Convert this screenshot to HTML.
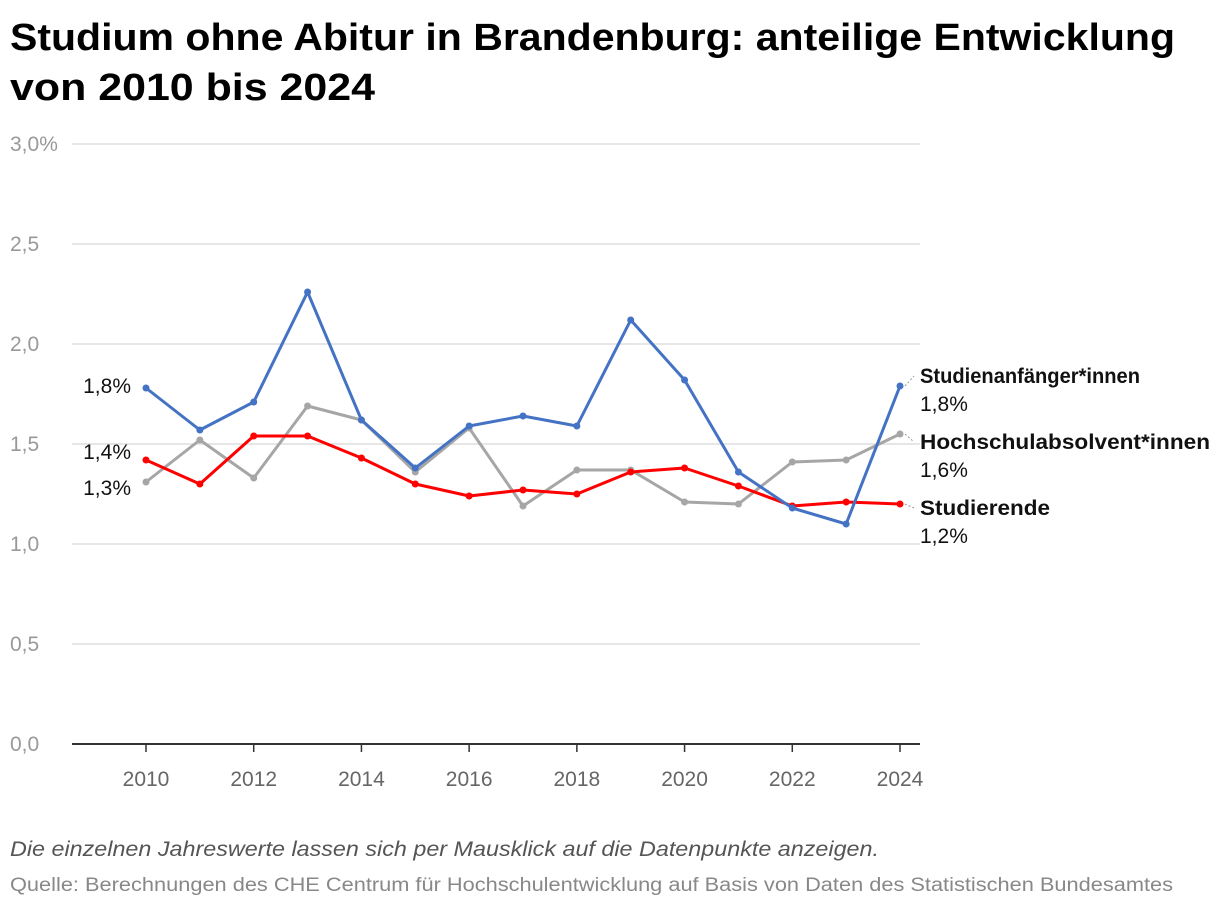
<!DOCTYPE html>
<html><head><meta charset="utf-8"><style>
body{margin:0;background:#fff;font-family:"Liberation Sans",sans-serif;}
</style></head><body>
<svg width="1220" height="908" xmlns="http://www.w3.org/2000/svg" font-family="Liberation Sans, sans-serif">
<text x="10" y="50" font-size="38" font-weight="bold" fill="#000" textLength="1165" lengthAdjust="spacingAndGlyphs">Studium ohne Abitur in Brandenburg: anteilige Entwicklung</text>
<text x="10" y="100" font-size="38" font-weight="bold" fill="#000" textLength="365" lengthAdjust="spacingAndGlyphs">von 2010 bis 2024</text>
<g id="grid"></g><g id="lines"></g><g id="labels"></g>
<text x="10" y="856" font-size="21" font-style="italic" fill="#555" textLength="869" lengthAdjust="spacingAndGlyphs">Die einzelnen Jahreswerte lassen sich per Mausklick auf die Datenpunkte anzeigen.</text>
<text x="10" y="891" font-size="19" fill="#888" textLength="1163" lengthAdjust="spacingAndGlyphs">Quelle: Berechnungen des CHE Centrum für Hochschulentwicklung auf Basis von Daten des Statistischen Bundesamtes</text>
</svg>
<script>
const years=[2010,2011,2012,2013,2014,2015,2016,2017,2018,2019,2020,2021,2022,2023,2024];
const anfaenger=[1.78,1.57,1.71,2.26,1.62,1.38,1.59,1.64,1.59,2.12,1.82,1.36,1.18,1.10,1.79];
const absolventen=[1.31,1.52,1.33,1.69,1.62,1.36,1.58,1.19,1.37,1.37,1.21,1.20,1.41,1.42,1.55];
const studierende=[1.42,1.30,1.54,1.54,1.43,1.30,1.24,1.27,1.25,1.36,1.38,1.29,1.19,1.21,1.20];
const yTicks=[0,0.5,1.0,1.5,2.0,2.5,3.0];
const yTickLabels=["0,0","0,5","1,0","1,5","2,0","2,5","3,0%"];
const xTicks=[2010,2012,2014,2016,2018,2020,2022,2024];
const NS="http://www.w3.org/2000/svg";
const X=y=>146+(y-2010)*(900-146)/14;
const Y=v=>744-v*200;
function mk(tag,attrs,parent,txt){const e=document.createElementNS(NS,tag);for(const k in attrs)e.setAttribute(k,attrs[k]);if(txt!==undefined)e.textContent=txt;parent.appendChild(e);return e;}
const grid=document.getElementById('grid'),lines=document.getElementById('lines'),labels=document.getElementById('labels');
yTicks.forEach((t,i)=>{
 if(t>0){const g=mk('line',{x1:72,x2:920,y1:Y(t),y2:Y(t),stroke:'#ddd','stroke-width':1.5},grid);
 
 }
 const l=mk('text',{x:10,y:Y(t)+7,'font-size':21,fill:'#999'},grid,yTickLabels[i]);
 
 
});
const ax=mk('line',{x1:72,x2:920,y1:744,y2:744,stroke:'#333','stroke-width':2},grid);


xTicks.forEach(t=>{
 mk('line',{x1:X(t),x2:X(t),y1:744,y2:752,stroke:'#333','stroke-width':1.5},grid);
 const l=mk('text',{x:X(t),y:786,'font-size':21,fill:'#666','text-anchor':'middle'},grid,t);
 
 
});
const series=[
 {d:absolventen,c:'#a6a6a6',n:'hochschulabsolventen'},
 {d:studierende,c:'#ff0000',n:'studierende'},
 {d:anfaenger,c:'#4472c4',n:'studienanfaenger'}];
series.forEach(s=>{
 const p=mk('polyline',{points:s.d.map((v,i)=>X(years[i])+','+Y(v)).join(' '),fill:'none',stroke:s.c,'stroke-width':3,'stroke-linejoin':'round'},lines);
 
 
 s.d.forEach((v,i)=>{const c=mk('circle',{cx:X(years[i]),cy:Y(v),r:3.5,fill:s.c},lines);
 
 });
});
const fmt=v=>v.toFixed(1).replace('.',',')+'%';
[[anfaenger[0],386],[studierende[0],452],[absolventen[0],488]].forEach(a=>{
 const t=mk('text',{x:131,y:a[1]+7,'font-size':21,fill:'#111','text-anchor':'end'},labels,fmt(a[0]));
 
 
});
[[anfaenger,'Studienanfänger*innen',376,220],[absolventen,'Hochschulabsolvent*innen',442,290],[studierende,'Studierende',508,130]].forEach(a=>{
 const v=a[0][14];
 mk('line',{x1:X(2024)+5,y1:Y(v),x2:914,y2:a[2],stroke:'#999','stroke-width':1,'stroke-dasharray':'2,2'},labels);
 const t=mk('text',{x:920,y:a[2]+7,'font-size':21,'font-weight':'bold',fill:'#111',textLength:a[3],lengthAdjust:'spacingAndGlyphs'},labels,a[1]);
 
 
 const t2=mk('text',{x:920,y:a[2]+35,'font-size':21,fill:'#111'},labels,fmt(v));
 
 
});
</script>
</body></html>
